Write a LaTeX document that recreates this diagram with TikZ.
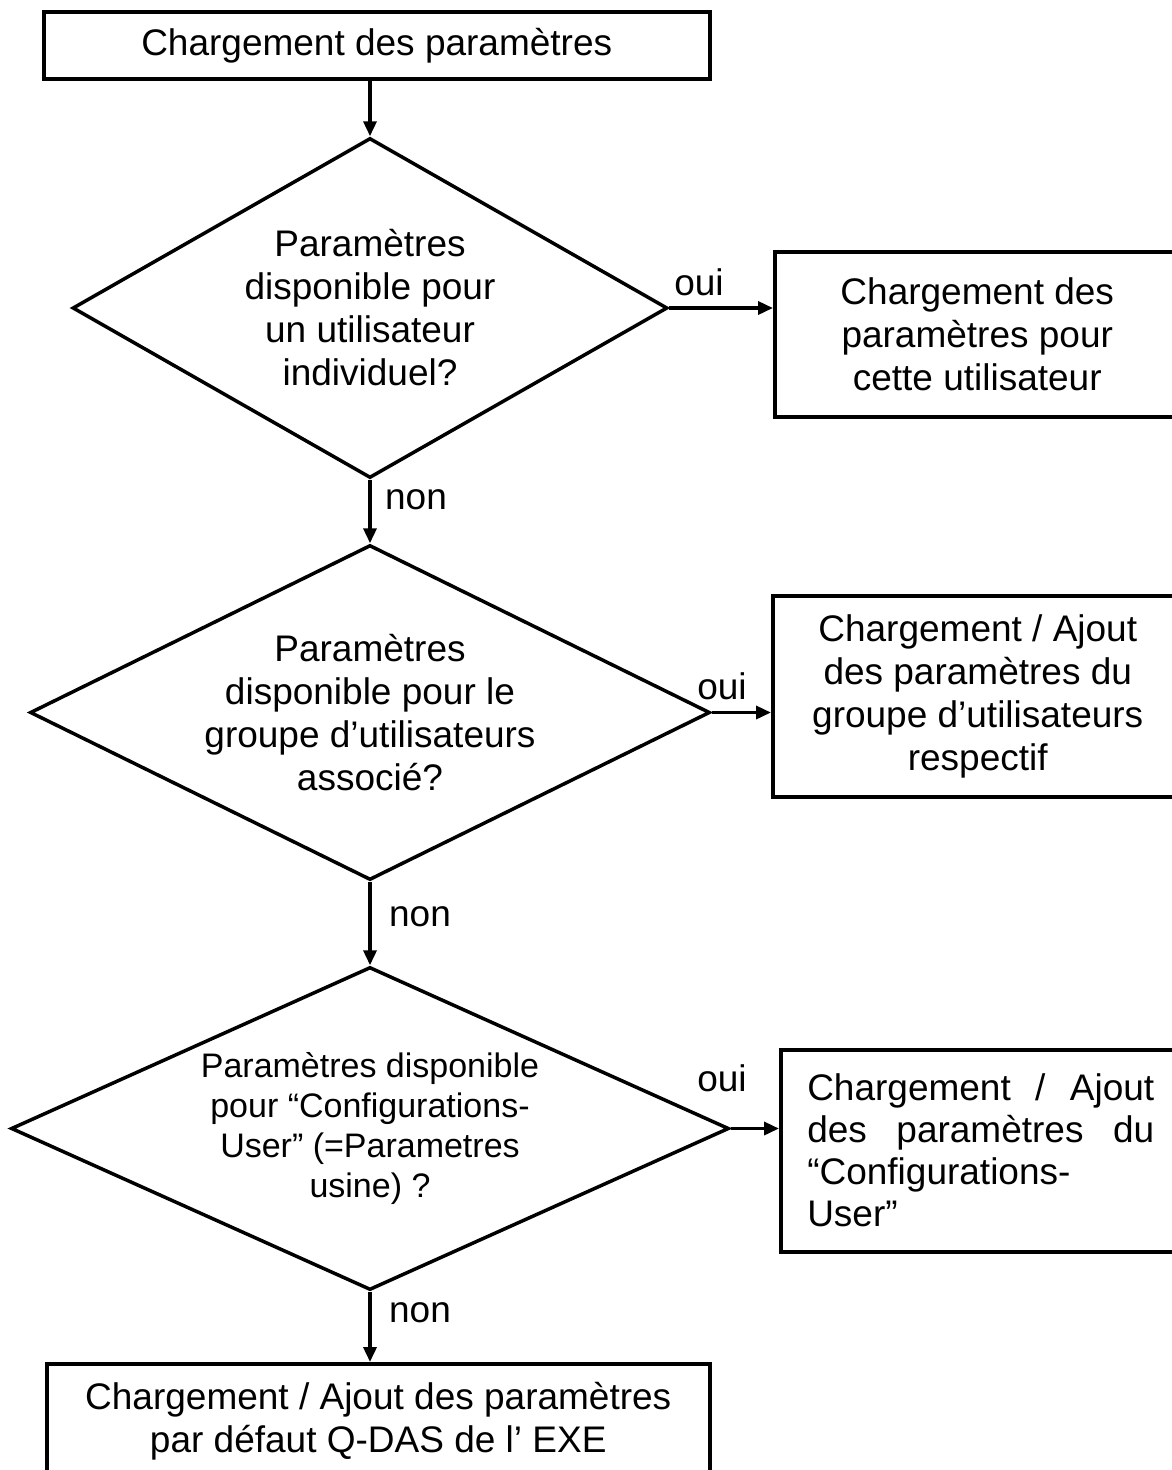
\documentclass[tikz,border=0pt]{standalone}
\usepackage{fontspec}
\setmainfont{Liberation Sans}
\usetikzlibrary{arrows.meta,shapes.geometric}
\begin{document}
\begin{tikzpicture}[x=1pt,y=-1pt,
  every node/.style={font=\fontsize{37}{43}\selectfont},
  box/.style={draw, line width=3.5pt, rectangle, inner sep=0pt, anchor=north west, align=center},
  dia/.style={draw, line width=3.5pt, diamond, inner sep=0pt},
  lbl/.style={inner sep=0pt},
  arr/.style={line width=3.5pt, -{Triangle[length=15pt,width=13pt]}}]
\useasboundingbox (0,0) rectangle (1172,1470);

\node[box, minimum width=666pt, minimum height=67pt] (b1) at (42,10) {Chargement des paramètres};

\node[dia, minimum width=595pt, minimum height=340pt] (d1) at (370,308) {};
\node[lbl, align=center] (t1) at (d1.center) {Paramètres\\disponible pour\\un utilisateur\\individuel?};

\node[box, minimum width=405pt, minimum height=165pt] (b2) at (773,250) {Chargement des\\paramètres pour\\cette utilisateur};

\node[dia, minimum width=680pt, minimum height=335pt] (d2) at (370,712.5) {};
\node[lbl, align=center] (t2) at (d2.center) {Paramètres\\disponible pour le\\groupe d’utilisateurs\\associé?};

\node[box, minimum width=410pt, minimum height=201pt] (b3) at (771,594) {Chargement / Ajout\\des paramètres du\\groupe d’utilisateurs\\respectif};

\node[dia, minimum width=718pt, minimum height=323pt] (d3) at (370,1128.5) {};
\node[lbl, align=center, font=\fontsize{34}{40}\selectfont] (t3) at (d3.center) {Paramètres disponible\\pour “Configurations-\\User” (=Parametres\\usine) ?};

\node[box, minimum width=400pt, minimum height=202pt] (b4) at (779,1048) {};
\node[lbl] (t4) at (b4.center) {\begin{minipage}{347pt}\fontsize{37}{42}\selectfont
\hbox to\linewidth{Chargement\hfill/\hfill Ajout}
\hbox to\linewidth{des\hfill paramètres\hfill du}
\hbox{“Configurations-}
\hbox{User”}\end{minipage}};

\node[box, minimum width=663pt, minimum height=115pt] (b5) at (45,1362) {Chargement / Ajout des paramètres\\par défaut Q-DAS de l’ EXE};

\draw[arr] (d1.north |- b1.south) -- (d1.north);
\draw[arr] (d1.east) -- (d1.east -| b2.west);
\draw[arr] (d1.south) -- (d2.north);
\draw[arr] (d2.east) -- (d2.east -| b3.west);
\draw[arr] (d2.south) -- (d3.north);
\draw[arr] (d3.east) -- (d3.east -| b4.west);
\draw[arr] (d3.south) -- (d3.south |- b5.north);

\node[lbl] (o1) at (699,282) {oui};
\node[lbl] (o2) at (722,686) {oui};
\node[lbl] (o3) at (722,1078) {oui};
\node[lbl] (n1) at (416,500) {non};
\node[lbl] (n2) at (420,917) {non};
\node[lbl] (n3) at (420,1313) {non};
\end{tikzpicture}
\end{document}
